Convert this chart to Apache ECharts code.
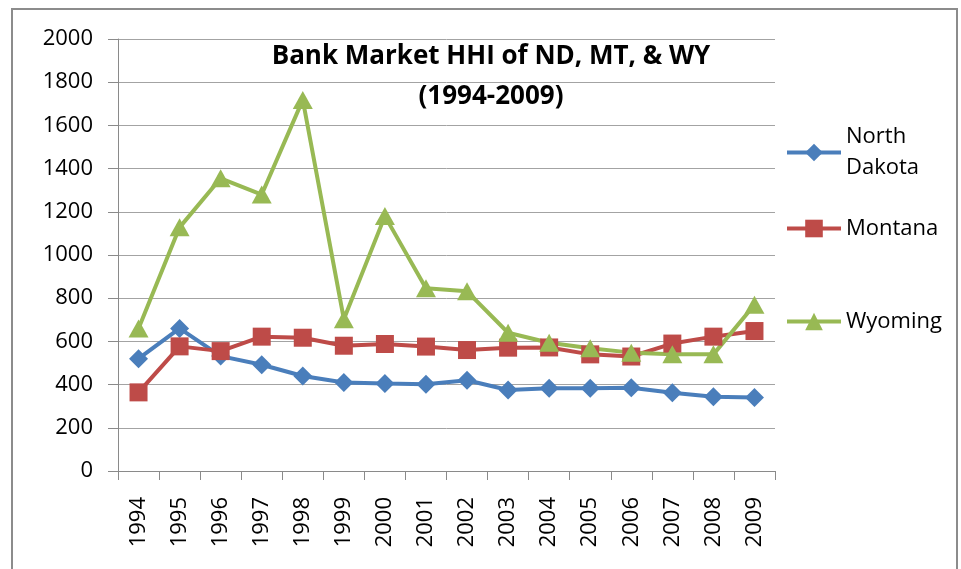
<!DOCTYPE html>
<html>
<head>
<meta charset="utf-8">
<script src="https://cdn.jsdelivr.net/npm/echarts@6/dist/echarts.min.js"></script>
<style>
  html, body { margin: 0; padding: 0; background: #fff; }
  #chart { width: 961px; height: 569px; }
</style>
</head>
<body>
<div id="chart"></div>
<script>
  var years = ['1994', '1995', '1996', '1997', '1998', '1999', '2000', '2001',
               '2002', '2003', '2004', '2005', '2006', '2007', '2008', '2009'];
  var northDakota = [520, 660, 532, 492, 440, 410, 405, 402, 420, 375, 383, 383, 385, 362, 344, 340];
  var montana = [364, 577, 555, 622, 617, 580, 588, 576, 560, 571, 572, 540, 530, 590, 622, 648];
  var wyoming = [660, 1128, 1355, 1280, 1718, 703, 1180, 846, 832, 640, 594, 568, 548, 540, 540, 770];
  var yTicks = [0, 200, 400, 600, 800, 1000, 1200, 1400, 1600, 1800, 2000];

  var font = '"Open Sans", "Noto Sans", sans-serif';
  var chart = echarts.init(document.getElementById('chart'));

  function legendFor(name, top, label, pad) {
    return {
      data: [name],
      left: 785,
      top: top,
      padding: 0,
      itemWidth: 54,
      itemHeight: 22,
      itemGap: 0,
      itemStyle: { borderWidth: 0 },
      lineStyle: { width: 4 },
      selectedMode: false,
      formatter: function () { return label; },
      textStyle: {
        fontFamily: font,
        fontSize: 22,
        lineHeight: 31,
        color: '#000',
        padding: pad
      }
    };
  }

  function lineSeries(name, data, color, symbol, size) {
    return {
      name: name,
      type: 'line',
      data: data,
      symbol: symbol,
      symbolSize: size,
      lineStyle: { color: color, width: 4 },
      itemStyle: { color: color },
      animation: false
    };
  }

  var option = {
    backgroundColor: '#fff',
    title: {
      text: 'Bank Market HHI of ND, MT, & WY\n(1994-2009)',
      left: 486,
      top: 32,
      textAlign: 'center',
      textStyle: {
        fontFamily: font,
        fontSize: 26,
        fontWeight: 'bold',
        lineHeight: 40,
        color: '#000'
      }
    },
    legend: [
      legendFor('North Dakota', 106, 'North\nDakota', [31, 0, 0, 0]),
      legendFor('Montana', 213, 'Montana', 0),
      legendFor('Wyoming', 306, 'Wyoming', 0)
    ],
    grid: {
      left: 118,
      right: 186,
      top: 39,
      bottom: 98
    },
    xAxis: {
      type: 'category',
      data: years,
      boundaryGap: true,
      axisLine: { lineStyle: { color: '#8a8a8a', width: 1 } },
      axisTick: { show: true, length: 9, lineStyle: { color: '#8a8a8a' } },
      axisLabel: {
        rotate: 90,
        margin: 26,
        fontFamily: font,
        fontSize: 22,
        color: '#000'
      },
      splitLine: { show: false }
    },
    yAxis: {
      type: 'value',
      min: yTicks[0],
      max: yTicks[yTicks.length - 1],
      interval: 200,
      axisLine: { show: true, lineStyle: { color: '#8a8a8a', width: 1 } },
      axisTick: { show: true, length: 10, lineStyle: { color: '#8a8a8a' } },
      axisLabel: {
        margin: 25,
        fontFamily: font,
        fontSize: 22,
        color: '#000',
        formatter: function (v) { return String(v); }
      },
      splitLine: { show: true, lineStyle: { color: '#a3a3a3', width: 1 } }
    },
    series: [
      lineSeries('North Dakota', northDakota, '#4a7ebb', 'diamond', 19),
      lineSeries('Montana', montana, '#be4b48', 'rect', 18),
      lineSeries('Wyoming', wyoming, '#98b954', 'triangle', [20, 18])
    ],
    graphic: [{
      type: 'rect',
      shape: { x: 12, y: 9, width: 945, height: 600 },
      style: { fill: 'none', stroke: '#8c8c8c', lineWidth: 2 },
      silent: true
    }]
  };

  chart.setOption(option);
</script>
</body>
</html>
